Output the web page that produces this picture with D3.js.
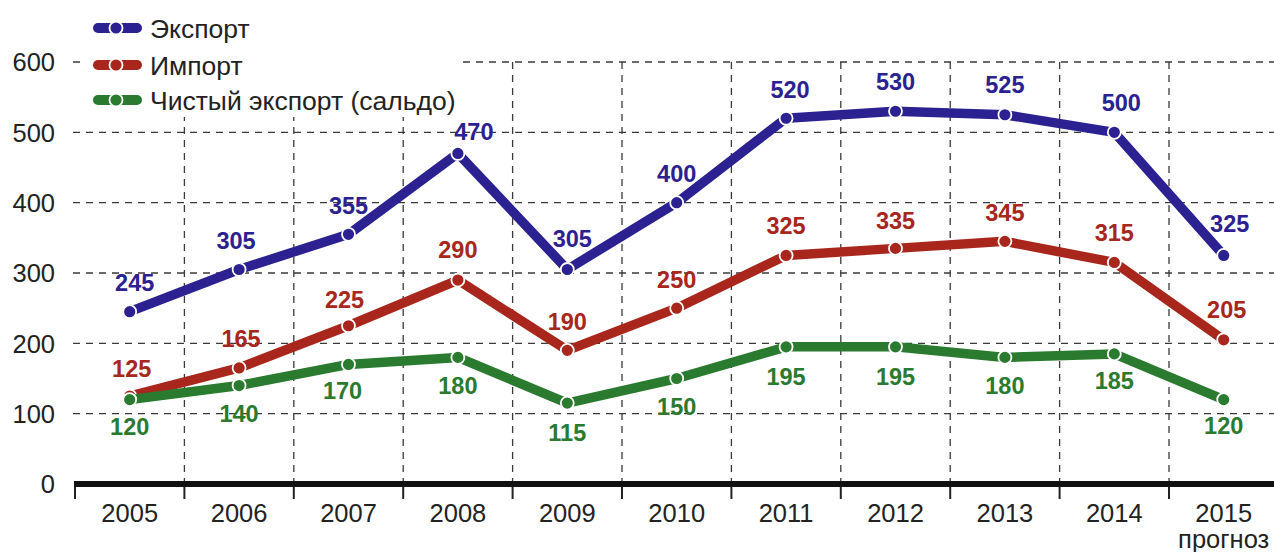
<!DOCTYPE html>
<html>
<head>
<meta charset="utf-8">
<script src="https://cdn.jsdelivr.net/npm/d3@7"></script>
<style>
  html, body { margin: 0; padding: 0; background: #fff; }
  svg { display: block; font-family: "Liberation Sans", Arial, Helvetica, sans-serif; }
</style>
</head>
<body>
<svg id="chart" width="1274" height="552"></svg>
<script>
// ---- data ----
const years = ["2005","2006","2007","2008","2009","2010","2011","2012","2013","2014","2015"];
const exportVals = [245, 305, 355, 470, 305, 400, 520, 530, 525, 500, 325];
const importVals = [125, 165, 225, 290, 190, 250, 325, 335, 345, 315, 205];
const netVals    = [120, 140, 170, 180, 115, 150, 195, 195, 180, 185, 120];
const yTicks = [0, 100, 200, 300, 400, 500, 600];
const seriesNames = ["Экспорт", "Импорт", "Чистый экспорт (сальдо)"];
const forecastNote = "прогноз";

// ---- styling / label placement (not data) ----
const colors = ["#2c2190", "#a8261b", "#2a7a2f"];
const labelDx = [
  [5, -3, 0, 16, 5, 0, 4, 0, 0, 7, 6],
  [2, 2, -4, 0, 0, 0, 0, 0, 0, 0, 3],
  [0, 0, -6, 0, 0, 0, 0, 0, 0, 0, 0]
];
const labelDy = [
  [-29, -29, -29, -22, -31, -29, -29, -30, -30, -30, -32],
  [-28, -29, -26, -30, -29, -29, -30, -28, -29, -30, -30],
  [27, 28, 26, 28, 29, 28, 30, 30, 28, 27, 26]
];

const svg = d3.select("#chart");
const x = d3.scaleBand().domain(years).range([75, 75 + 11 * 109.4]).padding(0);
const y = d3.scaleLinear().domain([0, 600]).range([484, 62]);
const gridColor = "#3a3a3a";

// horizontal grid
svg.append("g").selectAll("line")
  .data(yTicks.filter(d => d > 0))
  .join("line")
  .attr("x1", 73).attr("x2", 1274)
  .attr("y1", d => y(d)).attr("y2", d => y(d))
  .attr("stroke", gridColor).attr("stroke-width", 1.3)
  .attr("stroke-dasharray", "7,6");

// vertical grid at band boundaries
const boundaries = years.slice(1).map(yr => x(yr));
svg.append("g").selectAll("line")
  .data(boundaries)
  .join("line")
  .attr("x1", d => d).attr("x2", d => d)
  .attr("y1", y(600)).attr("y2", y(0))
  .attr("stroke", gridColor).attr("stroke-width", 1.3)
  .attr("stroke-dasharray", "7,6");

// legend background (covers grid)
svg.append("rect").attr("x", 84).attr("y", 0).attr("width", 378).attr("height", 117).attr("fill", "#fff");

// y tick labels
svg.append("g").selectAll("text")
  .data(yTicks)
  .join("text")
  .attr("x", 55).attr("y", d => y(d))
  .attr("dy", "0.36em")
  .attr("text-anchor", "end")
  .attr("font-size", 25.5)
  .attr("fill", "#222")
  .text(d => d);

// x axis
const xAxis = d3.axisBottom(x).tickSize(0).tickFormat(d => d);
const axG = svg.append("g").attr("transform", `translate(0,${y(0)})`).call(xAxis);
axG.select(".domain").remove();
axG.selectAll("text").attr("font-size", 25.5).attr("fill", "#222")
  .attr("font-family", "Liberation Sans, Arial, sans-serif").attr("dy", "1.38em");
// axis tick marks at all band edges
const edges = [x.range()[0]].concat(boundaries);
svg.append("g").selectAll("line")
  .data(edges)
  .join("line")
  .attr("x1", d => d).attr("x2", d => d)
  .attr("y1", y(0)).attr("y2", y(0) + 15)
  .attr("stroke", "#222").attr("stroke-width", 2);
svg.append("line")
  .attr("x1", x.range()[0] - 1).attr("x2", 1274)
  .attr("y1", y(0)).attr("y2", y(0))
  .attr("stroke", "#111").attr("stroke-width", 6);

svg.append("text")
  .attr("x", x("2015") + x.bandwidth() / 2).attr("y", 548)
  .attr("text-anchor", "middle").attr("font-size", 25.5).attr("fill", "#222")
  .text(forecastNote);

// series
const allSeries = [exportVals, importVals, netVals];
const cx = i => x(years[i]) + x.bandwidth() / 2;
const line = d3.line().x((d, i) => cx(i)).y(d => y(d));

allSeries.forEach((vals, s) => {
  const g = svg.append("g");
  g.append("path")
    .datum(vals)
    .attr("d", line)
    .attr("fill", "none")
    .attr("stroke", colors[s])
    .attr("stroke-width", 9.5)
    .attr("stroke-linejoin", "round");
  g.selectAll("circle")
    .data(vals)
    .join("circle")
    .attr("cx", (d, i) => cx(i)).attr("cy", d => y(d))
    .attr("r", 6.5)
    .attr("fill", colors[s])
    .attr("stroke", "#fff").attr("stroke-width", 1.8);
});

allSeries.forEach((vals, s) => {
  svg.append("g").selectAll("text")
    .data(vals)
    .join("text")
    .attr("x", (d, i) => cx(i) + labelDx[s][i])
    .attr("y", (d, i) => y(d) + labelDy[s][i])
    .attr("dy", "0.36em")
    .attr("text-anchor", "middle")
    .attr("font-size", 23.5)
    .attr("font-weight", "bold")
    .attr("fill", colors[s])
    .text(d => d);
});

// legend
const legendY = [28, 65, 100];
const lg = svg.append("g");
seriesNames.forEach((name, s) => {
  const ly = legendY[s];
  lg.append("line")
    .attr("x1", 98).attr("x2", 137).attr("y1", ly).attr("y2", ly)
    .attr("stroke", colors[s]).attr("stroke-width", 10).attr("stroke-linecap", "round");
  lg.append("circle")
    .attr("cx", 116).attr("cy", ly).attr("r", 6.5)
    .attr("fill", colors[s]).attr("stroke", "#fff").attr("stroke-width", 1.8);
  lg.append("text")
    .attr("x", 150).attr("y", ly).attr("dy", "0.36em")
    .attr("font-size", 26.5).attr("fill", "#222")
    .text(name);
});
</script>
</body>
</html>
